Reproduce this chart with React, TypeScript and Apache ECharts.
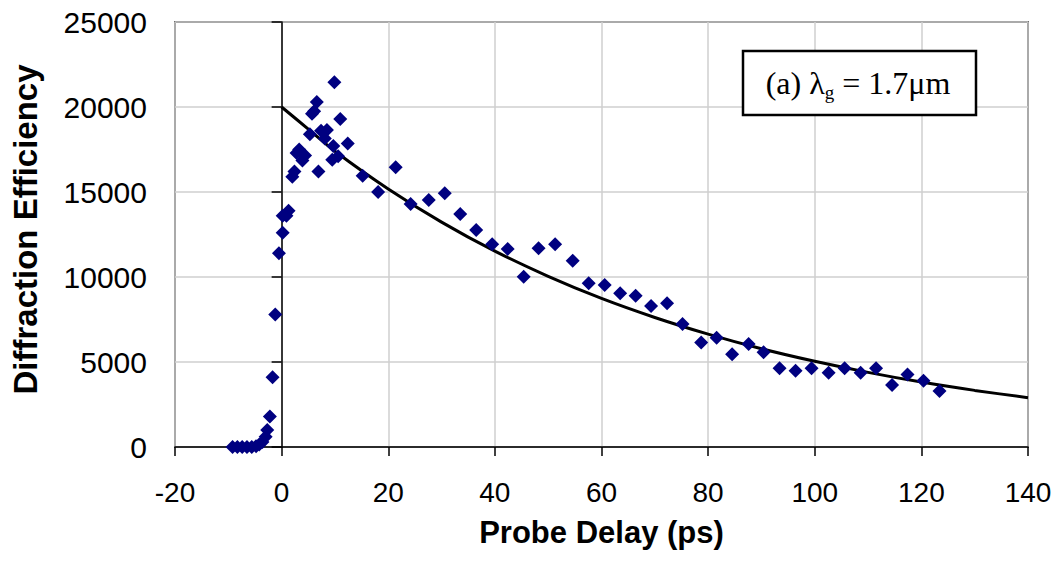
import React, { useEffect, useRef } from "react";
import * as echarts from "echarts";

// Measured points: probe delay (ps) and diffraction efficiency
const delays: number[] = [
  -9.2, -8.3, -7.4, -6.5, -5.6, -4.8, -4.2, -3.6, -3.0, -2.7, -2.2, -1.7, -1.2, -0.5,
  0.2, 0.2, 0.9, 1.3, 2.0, 2.4, 2.8, 3.3, 3.9, 4.4, 5.3, 5.7, 6.1, 6.6, 6.9, 7.4, 8.1,
  8.5, 9.5, 9.7, 9.9, 10.6, 11.0, 12.4, 15.2, 18.1, 21.4, 24.2, 27.6, 30.6, 33.5, 36.5,
  39.5, 42.4, 45.4, 48.2, 51.3, 54.6, 57.6, 60.6, 63.5, 66.4, 69.3, 72.3, 75.2, 78.7,
  81.6, 84.5, 87.6, 90.4, 93.4, 96.4, 99.4, 102.6, 105.6, 108.6, 111.5, 114.5, 117.4,
  120.4, 123.4,
];
const efficiency: number[] = [
  0, 0, 0, 0, 0, 50, 150, 300, 600, 1000, 1800, 4100, 7800, 11400,
  12600, 13600, 13600, 13900, 15900, 16200, 17300, 17500, 16850, 17150, 18400, 19600,
  19750, 20300, 16200, 18600, 18150, 18650, 16900, 17700, 21450, 17100, 19300, 17850,
  15950, 15000, 16450, 14300, 14530, 14920, 13700, 12760, 11920, 11650, 10020, 11690,
  11920, 10960, 9630, 9530, 9040, 8900, 8300, 8450, 7230, 6140, 6430, 5450, 6060, 5570,
  4630, 4490, 4630, 4370, 4630, 4370, 4630, 3650, 4270, 3900, 3290,
];

// Fitted decay curve
const fitDelay: number[] = [0, 5, 10, 20, 30, 40, 50, 60, 70, 80, 90, 100, 110, 120, 130, 140];
const fitValue: number[] = [
  20000, 18700, 17400, 15180, 13230, 11520, 10040, 8740, 7620, 6640, 5780, 5040, 4390,
  3820, 3330, 2900,
];

const xTicks = { min: -20, max: 140, interval: 20 };
const yTicks = { min: 0, max: 25000, interval: 5000 };

export default function App() {
  const ref = useRef<HTMLDivElement>(null);
  useEffect(() => {
    if (!ref.current) return;
    const chart = echarts.init(ref.current, undefined, { renderer: "svg" });
    const scatter = delays.map((d, i) => [d, efficiency[i]]);
    const fit = fitDelay.map((d, i) => [d, fitValue[i]]);
    chart.setOption({
      animation: false,
      backgroundColor: "#ffffff",
      grid: {
        left: 175,
        right: 34,
        top: 22,
        bottom: 125,
        show: true,
        borderColor: "#000",
        borderWidth: 1.5,
        backgroundColor: "transparent",
      },
      xAxis: {
        type: "value",
        min: xTicks.min,
        max: xTicks.max,
        interval: xTicks.interval,
        name: "Probe Delay (ps)",
        nameLocation: "middle",
        nameGap: 70,
        nameTextStyle: {
          fontFamily: "Liberation Sans",
          fontWeight: "bold",
          fontSize: 31,
          color: "#000",
        },
        axisLine: { onZero: false, lineStyle: { color: "#000", width: 1.5 } },
        axisTick: { show: true, length: 9, lineStyle: { color: "#000", width: 1.5 } },
        axisLabel: {
          margin: 31,
          fontFamily: "Liberation Sans",
          fontSize: 28,
          color: "#000",
          formatter: (v: number) => String(v),
        },
        splitLine: { show: true, lineStyle: { color: "#cfcfcf", width: 1.5 } },
      },
      yAxis: {
        type: "value",
        min: yTicks.min,
        max: yTicks.max,
        interval: yTicks.interval,
        name: "Diffraction Efficiency",
        nameLocation: "middle",
        nameGap: 133,
        nameTextStyle: {
          fontFamily: "Liberation Sans",
          fontWeight: "bold",
          fontSize: 33,
          color: "#000",
          padding: [0, 0, 0, 10],
        },
        axisLine: { show: true, lineStyle: { color: "#000", width: 1.5 } },
        axisTick: { show: true, length: 10, lineStyle: { color: "#000", width: 1.5 } },
        axisLabel: {
          margin: 28,
          fontFamily: "Liberation Sans",
          fontSize: 30,
          color: "#000",
          formatter: (v: number) => String(v),
        },
        splitLine: { show: true, lineStyle: { color: "#cfcfcf", width: 1.5 } },
      },
      series: [
        {
          type: "line",
          data: fit,
          smooth: 0.3,
          showSymbol: false,
          lineStyle: { color: "#000", width: 3 },
          z: 3,
        },
        {
          type: "scatter",
          data: scatter,
          symbol: "diamond",
          symbolSize: 14,
          itemStyle: { color: "#000080", opacity: 1 },
          z: 4,
        },
      ],
      graphic: [
        {
          type: "rect",
          shape: { x: 743, y: 51, width: 233, height: 64 },
          style: { fill: "#fff", stroke: "#000", lineWidth: 2.5 },
          z: 10,
        },
        {
          type: "text",
          x: 858,
          y: 83,
          z: 11,
          style: {
            text: "{n|(a) λ}{s|g}{n| = 1.7μm}",
            align: "center",
            verticalAlign: "middle",
            rich: {
              n: {
                fontFamily: "Liberation Serif",
                fontSize: 32,
                lineHeight: 38,
                fill: "#000",
              },
              s: {
                fontFamily: "Liberation Serif",
                fontSize: 19,
                lineHeight: 23,
                verticalAlign: "bottom",
                fill: "#000",
              },
            },
          },
        },
      ],
    });
    return () => chart.dispose();
  }, []);
  return (
    <div
      ref={ref}
      style={{ position: "fixed", left: 0, top: 0, width: 1062, height: 572 }}
    />
  );
}
